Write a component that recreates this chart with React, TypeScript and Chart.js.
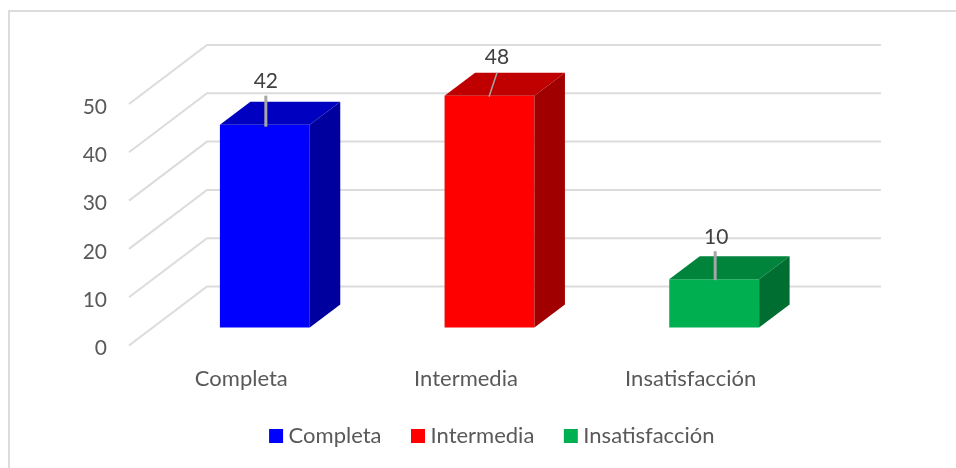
import React, { useEffect, useRef } from "react";
import { Chart, registerables } from "chart.js";

Chart.register(...registerables);

const categories = ["Completa", "Intermedia", "Insatisfacción"];
const values = [42, 48, 10];
const frontColors = ["#0000ff", "#ff0000", "#00b050"];
const topColors = ["#0000c0", "#c00000", "#00843c"];
const sideColors = ["#00009f", "#a00000", "#006e30"];
const yTicks = [0, 10, 20, 30, 40, 50];

const FONT = "Lato, Carlito, sans-serif";
const GRID = "#dcdcdc";
const LEADER = "#a6a6a6";

// Projection of the 3D box: wall depth, and how far the bars sit inside it.
const WALL_DX = 78;
const WALL_DY = -59;
const BAR_SHIFT_X = 23.5;
const BAR_SHIFT_Y = -18;
const BAR_DX = 30.5;
const BAR_DY = -23;

// Value labels: leader line ends and text centre, relative to the top of the front face.
const labelLayout = [
  { x0: 1, y0: 2, x1: 1, y1: -29, tx: 1, ty: -43, w: 3 },
  { x0: -0.5, y0: 1, x1: 7.5, y1: -23, tx: 7.5, ty: -38, w: 1.5 },
  { x0: 1, y0: 1, x1: 1, y1: -28, tx: 2, ty: -42, w: 3 },
];

const scene3d = {
  id: "scene3d",
  afterLayout(chart: any) {
    const legend = chart.legend;
    legend.left += 93;
    legend.right += 93;
    legend.top = 390;
    legend.bottom = 390 + legend.height;
  },
  beforeDraw(chart: any) {
    const { ctx, width, height } = chart;
    ctx.save();
    ctx.fillStyle = "#ffffff";
    ctx.fillRect(0, 0, width, height);
    ctx.fillStyle = "#dcdcdc";
    ctx.fillRect(8, 10, width - 8, 2);
    ctx.fillRect(8, 10, 2, height - 10);
    ctx.restore();
  },
  beforeDatasetsDraw(chart: any) {
    const { ctx, chartArea, scales } = chart;
    ctx.save();
    ctx.strokeStyle = GRID;
    ctx.lineWidth = 2;
    yTicks.forEach((tick) => {
      const y = scales.y.getPixelForValue(tick);
      ctx.beginPath();
      ctx.moveTo(chartArea.left, y);
      ctx.lineTo(chartArea.left + WALL_DX, y + WALL_DY);
      ctx.lineTo(chartArea.right + WALL_DX, y + WALL_DY);
      ctx.stroke();
    });
    ctx.restore();
    ctx.save();
    ctx.translate(BAR_SHIFT_X, BAR_SHIFT_Y);
  },
  afterDatasetsDraw(chart: any) {
    const { ctx } = chart;
    const bars = chart.getDatasetMeta(0).data;
    bars.forEach((bar: any, i: number) => {
      const left = bar.x - bar.width / 2;
      const right = bar.x + bar.width / 2;
      ctx.fillStyle = topColors[i];
      ctx.beginPath();
      ctx.moveTo(left, bar.y);
      ctx.lineTo(left + BAR_DX, bar.y + BAR_DY);
      ctx.lineTo(right + BAR_DX, bar.y + BAR_DY);
      ctx.lineTo(right, bar.y);
      ctx.closePath();
      ctx.fill();
      ctx.fillStyle = sideColors[i];
      ctx.beginPath();
      ctx.moveTo(right, bar.y);
      ctx.lineTo(right + BAR_DX, bar.y + BAR_DY);
      ctx.lineTo(right + BAR_DX, bar.base + BAR_DY);
      ctx.lineTo(right, bar.base);
      ctx.closePath();
      ctx.fill();
    });
    bars.forEach((bar: any, i: number) => {
      const spot = labelLayout[i];
      ctx.strokeStyle = LEADER;
      ctx.lineWidth = spot.w;
      ctx.beginPath();
      ctx.moveTo(bar.x + spot.x0, bar.y + spot.y0);
      ctx.lineTo(bar.x + spot.x1, bar.y + spot.y1);
      ctx.stroke();
      ctx.fillStyle = "#404040";
      ctx.font = `21px ${FONT}`;
      ctx.textAlign = "center";
      ctx.textBaseline = "middle";
      ctx.fillText(String(values[i]), bar.x + spot.tx, bar.y + spot.ty);
    });
    ctx.restore();
  },
};

export default function App() {
  const ref = useRef<HTMLCanvasElement>(null);

  useEffect(() => {
    document.body.style.margin = "0";
    const chart = new Chart(ref.current!, {
      type: "bar",
      plugins: [scene3d],
      data: {
        labels: categories,
        datasets: [
          {
            data: values,
            backgroundColor: frontColors,
            barPercentage: 0.4,
            categoryPercentage: 1,
            clip: false,
          },
        ],
      },
      options: {
        responsive: false,
        animation: false,
        layout: { padding: { top: 104, right: 153, left: 0, bottom: 0 } },
        scales: {
          x: {
            grid: { display: false, drawTicks: false },
            border: { display: false },
            ticks: {
              padding: 20,
              color: "#595959",
              font: { family: FONT, size: 22 },
              maxRotation: 0,
            },
            afterFit(scale: any) {
              scale.height = 55.5;
            },
          },
          y: {
            min: 0,
            max: 50,
            grid: { display: false, drawTicks: false },
            border: { display: false },
            ticks: {
              stepSize: 10,
              padding: 22,
              labelOffset: 3,
              color: "#595959",
              font: { family: FONT, size: 21 },
            },
            afterFit(scale: any) {
              scale.width = 129;
            },
          },
        },
        plugins: {
          tooltip: { enabled: false },
          legend: {
            position: "bottom",
            labels: {
              usePointStyle: true,
              boxWidth: 3,
              boxHeight: 14,
              padding: 35,
              color: "#595959",
              font: { family: FONT, size: 22 },
              generateLabels: () =>
                categories.map((text, i) => ({
                  text,
                  fillStyle: frontColors[i],
                  strokeStyle: frontColors[i],
                  fontColor: "#595959",
                  lineWidth: 0,
                  pointStyle: "rect",
                  hidden: false,
                  index: i,
                })),
            },
          },
        },
      },
    } as any);
    return () => chart.destroy();
  }, []);

  return <canvas ref={ref} width={956} height={468} style={{ display: "block" }} />;
}
